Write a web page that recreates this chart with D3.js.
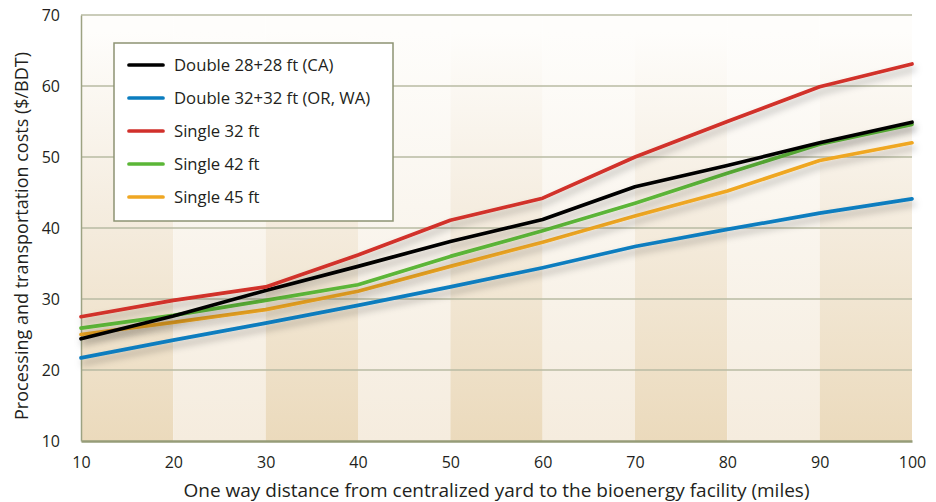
<!DOCTYPE html>
<html>
<head>
<meta charset="utf-8">
<script src="https://cdn.jsdelivr.net/npm/d3@7"></script>
<style>
  body { margin: 0; background: #fff; }
  svg text { font-family: "Open Sans", sans-serif; fill: #231f20; }
</style>
</head>
<body>
<svg id="chart"></svg>
<script>
// distances (miles)
const distances = [10, 20, 30, 40, 50, 60, 70, 80, 90, 100];

// processing + transport cost ($/BDT)
const double28 = [24.4, 27.6, 31.2, 34.6, 38.1, 41.2, 45.8, 48.8, 52.0, 54.9];
const double32 = [21.7, 24.2, 26.6, 29.1, 31.7, 34.4, 37.4, 39.8, 42.1, 44.1];
const single32 = [27.5, 29.8, 31.7, 36.2, 41.1, 44.2, 50.0, 55.0, 59.9, 63.1];
const single42 = [25.9, 27.7, 29.8, 32.0, 36.0, 39.6, 43.5, 47.7, 51.8, 54.6];
const single45 = [25.0, 26.7, 28.5, 31.1, 34.6, 38.0, 41.7, 45.2, 49.5, 52.0];

const seriesNames = ['Double 28+28 ft (CA)', 'Double 32+32 ft (OR, WA)', 'Single 32 ft', 'Single 42 ft', 'Single 45 ft'];
const seriesValues = [double28, double32, single32, single42, single45];
const seriesColors = ['#000000', '#0b7dbf', '#d1302b', '#5bb637', '#efa723'];

const yTicks = [10, 20, 30, 40, 50, 60, 70];
const xTicks = [10, 20, 30, 40, 50, 60, 70, 80, 90, 100];

const width = 936;
const height = 502;
const margin = {top: 15, right: 24, bottom: 61, left: 81};

const svg = d3.select('#chart')
    .attr('width', width)
    .attr('height', height);

const x = d3.scaleLinear()
    .domain([10, 100])
    .range([margin.left, width - margin.right]);
const y = d3.scaleLinear()
    .domain([10, 70])
    .range([height - margin.bottom, margin.top]);

const defs = svg.append('defs');

function bandGradient(id, bottomColor, midColor) {
    const g = defs.append('linearGradient')
        .attr('id', id)
        .attr('x1', 0).attr('y1', 0).attr('x2', 0).attr('y2', 1);
    g.append('stop').attr('offset', '0%').attr('stop-color', '#fefdfb');
    g.append('stop').attr('offset', '4%').attr('stop-color', '#fefdfb');
    g.append('stop').attr('offset', '45%').attr('stop-color', midColor);
    g.append('stop').attr('offset', '100%').attr('stop-color', bottomColor);
}
bandGradient('bandDark', '#ebdabc', '#f5ede0');
bandGradient('bandLight', '#f5ecde', '#faf6ef');

const shadow = defs.append('filter')
    .attr('id', 'shadow')
    .attr('x', '-10%').attr('y', '-20%')
    .attr('width', '120%').attr('height', '140%');
shadow.append('feDropShadow')
    .attr('dx', 2).attr('dy', 5)
    .attr('stdDeviation', 3.5)
    .attr('flood-color', '#000')
    .attr('flood-opacity', 0.28);

// alternating background bands
const bands = d3.pairs(xTicks);
svg.append('g')
    .selectAll('rect')
    .data(bands)
    .join('rect')
        .attr('x', d => x(d[0]))
        .attr('width', d => x(d[1]) - x(d[0]))
        .attr('y', y(70))
        .attr('height', y(10) - y(70))
        .attr('fill', (d, i) => i % 2 === 0 ? 'url(#bandDark)' : 'url(#bandLight)');

// gridlines
svg.append('g')
    .selectAll('line')
    .data(yTicks.slice(1))
    .join('line')
        .attr('x1', x(10))
        .attr('x2', x(100))
        .attr('y1', d => y(d))
        .attr('y2', d => y(d))
        .attr('stroke', '#b8bba3')
        .attr('stroke-width', 1.5);

// axes
const xAxis = svg.append('g')
    .attr('transform', `translate(0,${y(10)})`)
    .call(d3.axisBottom(x).tickValues(xTicks).tickSize(0).tickPadding(16));
xAxis.select('.domain').attr('stroke', '#969c78').attr('stroke-width', 2.5);
xAxis.selectAll('text').style('font-size', '16px').attr('fill', '#231f20');

const yAxis = svg.append('g')
    .attr('transform', `translate(${x(10)},0)`)
    .call(d3.axisLeft(y).tickValues(yTicks).tickSize(0).tickPadding(21));
yAxis.select('.domain').attr('stroke', '#9da282').attr('stroke-width', 1.5);
yAxis.selectAll('text').style('font-size', '16px').attr('fill', '#231f20');

// lines
const line = d3.line()
    .x((d, i) => x(distances[i]))
    .y(d => y(d));

// draw bottom-most first so black ends up near the top like the original
const drawOrder = [1, 4, 3, 0, 2];
svg.append('g')
    .selectAll('path')
    .data(drawOrder)
    .join('path')
        .attr('d', i => line(seriesValues[i]))
        .attr('fill', 'none')
        .attr('stroke', i => seriesColors[i])
        .attr('stroke-width', 3.7)
        .attr('stroke-linejoin', 'round')
        .attr('stroke-linecap', 'round')
        .attr('filter', 'url(#shadow)');

// legend
const legend = svg.append('g').attr('transform', 'translate(114,43)');
legend.append('rect')
    .attr('width', 279)
    .attr('height', 178)
    .attr('fill', '#fff')
    .attr('stroke', '#8d9373')
    .attr('stroke-width', 1.5);

const rows = legend.selectAll('g.row')
    .data(seriesNames)
    .join('g')
        .attr('class', 'row')
        .attr('transform', (d, i) => `translate(0,${22 + i * 33})`);
rows.append('line')
    .attr('x1', 15).attr('x2', 49)
    .attr('stroke', (d, i) => seriesColors[i])
    .attr('stroke-width', 3.7)
    .attr('stroke-linecap', 'round');
rows.append('text')
    .attr('x', 60)
    .attr('dy', '0.35em')
    .style('font-size', '16.7px')
    .text(d => d);

// axis titles
svg.append('text')
    .attr('x', (x(10) + x(100)) / 2)
    .attr('y', 497)
    .attr('text-anchor', 'middle')
    .style('font-size', '19px')
    .text('One way distance from centralized yard to the bioenergy facility (miles)');

svg.append('text')
    .attr('transform', `translate(28,${(y(10) + y(70)) / 2 + 8}) rotate(-90)`)
    .attr('text-anchor', 'middle')
    .style('font-size', '18px')
    .text('Processing and transportation costs ($/BDT)');
</script>
</body>
</html>
